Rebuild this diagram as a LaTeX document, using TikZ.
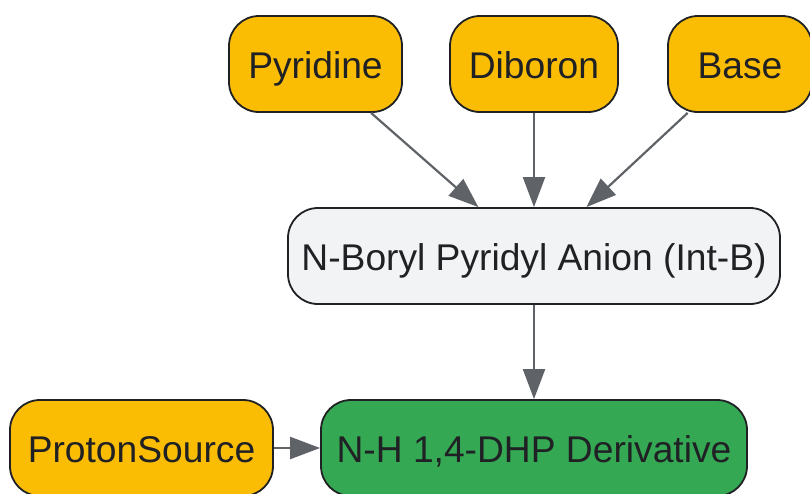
\documentclass[tikz,border=0pt]{standalone}
\usepackage{fontspec}
\setmainfont{Liberation Sans}
\usetikzlibrary{arrows.meta}

\definecolor{reagent}{HTML}{FBBC04}
\definecolor{interm}{HTML}{F1F3F4}
\definecolor{product}{HTML}{34A853}
\definecolor{edgegray}{HTML}{5F6368}
\definecolor{inkdark}{HTML}{202124}

\tikzset{
  box/.style={draw=inkdark, line width=1.8pt, rounded corners=30pt,
    minimum height=96pt, text=inkdark, inner sep=0pt,
    text height=29pt, text depth=0pt,
    font=\fontsize{37.2}{40}\selectfont},
  reagentbox/.style={box, fill=reagent},
  link/.style={draw=edgegray, line width=2.2pt,
    -{Triangle[length=30pt,width=22pt]}},
}

\begin{document}
\begin{tikzpicture}[x=1pt,y=-1pt]
    \useasboundingbox (0,0) rectangle (810,493);

    \node[reagentbox, minimum width=173pt] (pyr)  at (315.5,64) {Pyridine};
    \node[reagentbox, minimum width=168pt] (dib)  at (534,64)   {Diboron};
    \node[reagentbox, minimum width=144pt] (base) at (740,64)   {Base};

    \node[box, fill=interm, minimum width=492pt] (intb) at (534,256) {N-Boryl Pyridyl Anion (Int-B)};

    \node[reagentbox, minimum width=263pt] (prot) at (141.5,448) {ProtonSource};
    \node[box, fill=product, minimum width=426pt] (dhp) at (534,448) {N-H 1,4-DHP Derivative};

    \draw[link] (pyr)  -- (intb);
    \draw[link] (dib)  -- (intb);
    \draw[link] (base) -- (intb);
    \draw[link] (intb) -- (dhp);
    \draw[link] (prot) -- (dhp);
\end{tikzpicture}
\end{document}
